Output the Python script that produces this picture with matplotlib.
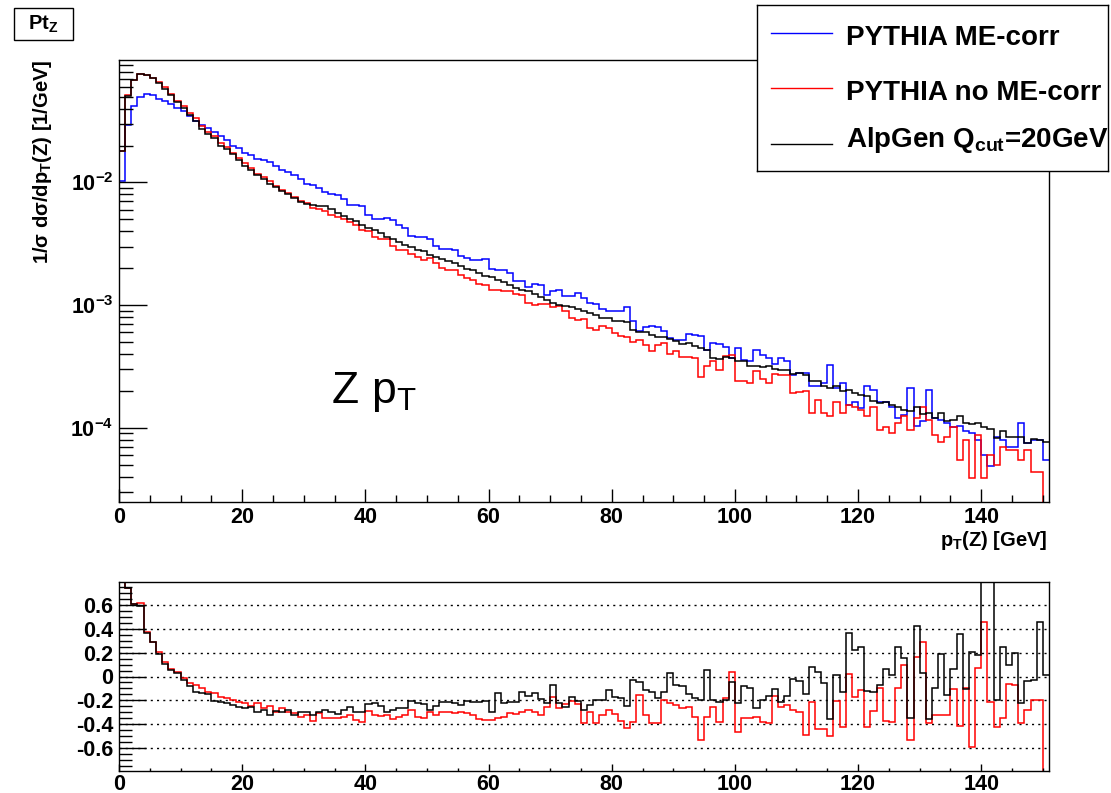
import numpy as np
import matplotlib
matplotlib.use('Agg')
import matplotlib.pyplot as plt
from matplotlib.patches import Rectangle
from matplotlib.ticker import FixedLocator, MultipleLocator, LogLocator, NullFormatter, FuncFormatter

plt.rcParams['font.family'] = ['Liberation Sans', 'DejaVu Sans']
plt.rcParams['font.weight'] = 'bold'
plt.rcParams['mathtext.fontset'] = 'custom'
plt.rcParams['mathtext.rm'] = 'Liberation Sans:weight=normal'
plt.rcParams['mathtext.it'] = 'Liberation Sans:italic'
plt.rcParams['mathtext.bf'] = 'Liberation Sans:bold'
plt.rcParams['axes.unicode_minus'] = False

# 1 GeV bins from 0 to 151
PT_EDGES = np.arange(0, 152)

# 1/sigma dsigma/dpT(Z) per bin [1/GeV]
PYTHIA_ME = [
    0.0103, 0.0292, 0.0420, 0.0501, 0.0530, 0.0513, 0.0482, 0.0461, 0.0433, 0.0407,
    0.0382, 0.0348, 0.0316, 0.0292, 0.0279, 0.0257, 0.0239, 0.0220, 0.0200, 0.0192,
    0.0175, 0.0166, 0.0156, 0.0151, 0.0147, 0.0136, 0.0126, 0.0121, 0.0114, 0.0106,
    0.0098, 0.00945, 0.00905, 0.00839, 0.00808, 0.00783, 0.00727, 0.00661, 0.00661, 0.00641,
    0.00548, 0.00508, 0.00508, 0.00515, 0.00493, 0.00446, 0.00426, 0.00369, 0.00360, 0.00360,
    0.00343, 0.00306, 0.00287, 0.00287, 0.00284, 0.00251, 0.00241, 0.00232, 0.00232, 0.00238,
    0.00197, 0.00195, 0.00192, 0.00183, 0.00157, 0.00157, 0.00141, 0.00150, 0.00147, 0.00120,
    0.00131, 0.00134, 0.00118, 0.00118, 0.00126, 0.00114, 0.00105, 0.00103, 0.00093, 0.00089,
    0.00089, 0.00089, 0.00097, 0.00074, 0.00062, 0.00066, 0.00068, 0.00067, 0.00062, 0.00054,
    0.00052, 0.00052, 0.00058, 0.00057, 0.00056, 0.00043, 0.00049, 0.00048, 0.00046, 0.00037,
    0.00045, 0.00036, 0.00035, 0.00043, 0.00039, 0.00037, 0.00033, 0.00037, 0.00035, 0.00027,
    0.00028, 0.000279, 0.000220, 0.000218, 0.000232, 0.000327, 0.000211, 0.000232, 0.000154, 0.000164,
    0.000145, 0.000218, 0.000202, 0.000164, 0.000161, 0.000149, 0.000120, 0.000128, 0.000211, 0.000103,
    0.000113, 0.000204, 0.000120, 0.000116, 0.000109, 0.000101, 0.000104, 0.0000951, 0.0000904, 0.0000798,
    0.0000602, 0.0000490, 0.0000850, 0.0000798, 0.0000695, 0.0000695, 0.000109, 0.0000749, 0.0000798, 0.0000798,
    0.0000548,
]
PYTHIA_NOME = [
    0.0182, 0.0515, 0.069, 0.077, 0.075, 0.071, 0.066, 0.060, 0.053, 0.046,
    0.042, 0.037, 0.0335, 0.029, 0.026, 0.0240, 0.0210, 0.0193, 0.0173, 0.0158,
    0.0143, 0.0131, 0.0118, 0.0111, 0.0102, 0.0094, 0.0087, 0.0082, 0.0076, 0.0070,
    0.0068, 0.00621, 0.00602, 0.00583, 0.00548, 0.00525, 0.00499, 0.00477, 0.00446, 0.00408,
    0.00401, 0.00360, 0.00349, 0.00343, 0.00306, 0.00284, 0.00280, 0.00263, 0.00247, 0.00235,
    0.00243, 0.00221, 0.00201, 0.00195, 0.00192, 0.00177, 0.00167, 0.00160, 0.00150, 0.00147,
    0.00132, 0.00132, 0.00131, 0.00130, 0.00124, 0.00120, 0.00104, 0.00101, 0.00103, 0.00103,
    0.00096, 0.00098, 0.00089, 0.00079, 0.00076, 0.00077, 0.00065, 0.000623, 0.000671, 0.000651,
    0.000593, 0.000564, 0.000549, 0.000497, 0.000522, 0.000470, 0.000420, 0.000470, 0.000491, 0.000402,
    0.000420, 0.000377, 0.000381, 0.000368, 0.000259, 0.000318, 0.000348, 0.000294, 0.000385, 0.000394,
    0.000243, 0.000243, 0.000233, 0.000290, 0.000248, 0.000233, 0.000276, 0.000272, 0.000272, 0.000194,
    0.000196, 0.000198, 0.000132, 0.000169, 0.000132, 0.000125, 0.000164, 0.000132, 0.000154, 0.000149,
    0.000140, 0.000125, 0.000149, 0.0000963, 0.000101, 0.0000916, 0.000110, 0.000124, 0.0000963, 0.000120,
    0.000149, 0.000116, 0.0000877, 0.0000773, 0.0000850, 0.000101, 0.0000548, 0.0000798, 0.0000388, 0.0000877,
    0.0000388, 0.0000602, 0.0000499, 0.0000704, 0.0000661, 0.0000661, 0.0000548, 0.0000661, 0.0000440, 0.0000440,
    0.00001,
]
ALPGEN = [
    0.0182, 0.0507, 0.0684, 0.0771, 0.0752, 0.0707, 0.0652, 0.0582, 0.0513, 0.0453,
    0.0407, 0.0353, 0.0316, 0.0271, 0.0250, 0.0230, 0.0200, 0.0186, 0.0169, 0.0152,
    0.0136, 0.0126, 0.0114, 0.0107, 0.0098, 0.0091, 0.0085, 0.0080, 0.0074, 0.0069,
    0.0067, 0.00661, 0.00641, 0.00641, 0.00602, 0.00559, 0.00531, 0.00499, 0.00483, 0.00454,
    0.00424, 0.00408, 0.00388, 0.00360, 0.00343, 0.00326, 0.00312, 0.00298, 0.00284, 0.00275,
    0.00258, 0.00247, 0.00238, 0.00228, 0.00221, 0.00210, 0.00197, 0.00192, 0.00183, 0.00172,
    0.00170, 0.00160, 0.00154, 0.00146, 0.00138, 0.00134, 0.00130, 0.00123, 0.00117, 0.00110,
    0.00105, 0.00101, 0.00098, 0.00096, 0.00093, 0.00089, 0.00086, 0.000836, 0.000785, 0.000785,
    0.000738, 0.000738, 0.000724, 0.000631, 0.000600, 0.000600, 0.000574, 0.000549, 0.000549, 0.000530,
    0.000507, 0.000485, 0.000491, 0.000467, 0.000447, 0.000433, 0.000368, 0.000363, 0.000377, 0.000368,
    0.000354, 0.000348, 0.000322, 0.000318, 0.000313, 0.000318, 0.000303, 0.000299, 0.000298, 0.000276,
    0.000281, 0.000271, 0.000239, 0.000239, 0.000218, 0.000211, 0.000220, 0.000198, 0.000204, 0.000194,
    0.000186, 0.000183, 0.000166, 0.000159, 0.000164, 0.000154, 0.000149, 0.000140, 0.000138, 0.000147,
    0.000130, 0.000133, 0.000120, 0.000133, 0.000113, 0.000115, 0.000124, 0.000110, 0.000108, 0.000110,
    0.000101, 0.0000975, 0.0000824, 0.0000951, 0.0000839, 0.0000839, 0.0000850, 0.0000749, 0.0000808, 0.0000798,
    0.0000773,
]

# relative difference to PYTHIA ME-corr
RATIO_NOME = [
    0.85, 0.74, 0.606, 0.615, 0.371, 0.287, 0.209, 0.119, 0.060, 0.041,
    -0.010, -0.057, -0.071, -0.099, -0.133, -0.141, -0.175, -0.183, -0.197, -0.217,
    -0.225, -0.245, -0.225, -0.267, -0.245, -0.296, -0.267, -0.301, -0.310, -0.338,
    -0.324, -0.371, -0.310, -0.346, -0.352, -0.352, -0.338, -0.324, -0.366, -0.380,
    -0.290, -0.324, -0.329, -0.324, -0.360, -0.338, -0.324, -0.282, -0.338, -0.352,
    -0.296, -0.324, -0.301, -0.301, -0.310, -0.301, -0.310, -0.324, -0.357, -0.366,
    -0.366, -0.352, -0.338, -0.310, -0.318, -0.301, -0.282, -0.296, -0.324, -0.259,
    -0.175, -0.262, -0.234, -0.206, -0.234, -0.394, -0.296, -0.394, -0.324, -0.282,
    -0.318, -0.374, -0.430, -0.380, -0.155, -0.324, -0.394, -0.394, -0.197, -0.225,
    -0.239, -0.262, -0.254, -0.338, -0.534, -0.338, -0.254, -0.380, -0.183, 0.041,
    -0.464, -0.352, -0.346, -0.338, -0.380, -0.394, -0.161, -0.254, -0.239, -0.282,
    -0.296, -0.491, -0.217, -0.441, -0.441, -0.497, -0.206, -0.422, 0.018, -0.169,
    -0.113, -0.422, -0.290, -0.099, -0.374, -0.385, -0.094, 0.097, -0.534, 0.167,
    0.293, -0.394, -0.324, -0.324, -0.324, -0.105, -0.413, -0.099, -0.590, 0.069,
    0.455, -0.211, -0.422, -0.352, -0.066, -0.071, -0.394, -0.282, -0.197, -0.197,
    -1.0,
]
RATIO_ALPGEN = [
    0.85, 0.746, 0.606, 0.595, 0.363, 0.287, 0.189, 0.102, 0.055, 0.027,
    -0.029, -0.080, -0.127, -0.141, -0.150, -0.206, -0.211, -0.225, -0.239, -0.254,
    -0.262, -0.254, -0.301, -0.282, -0.324, -0.290, -0.296, -0.282, -0.324, -0.296,
    -0.296, -0.324, -0.301, -0.282, -0.296, -0.315, -0.282, -0.254, -0.296, -0.296,
    -0.234, -0.225, -0.245, -0.296, -0.280, -0.267, -0.267, -0.203, -0.225, -0.234,
    -0.282, -0.245, -0.211, -0.211, -0.225, -0.239, -0.206, -0.217, -0.211, -0.203,
    -0.296, -0.141, -0.220, -0.211, -0.211, -0.133, -0.161, -0.141, -0.189, -0.225,
    -0.071, -0.225, -0.254, -0.169, -0.206, -0.282, -0.239, -0.197, -0.197, -0.113,
    -0.169, -0.183, -0.245, -0.029, -0.043, -0.113, -0.133, -0.178, -0.127, 0.027,
    -0.071, -0.080, -0.150, -0.178, -0.197, 0.055, -0.197, -0.211, -0.197, -0.043,
    -0.225, -0.080, -0.094, -0.262, -0.197, -0.161, -0.105, -0.211, -0.161, -0.021,
    -0.038, -0.150, 0.083, 0.035, -0.057, -0.357, 0.013, -0.133, 0.363, 0.223,
    0.251, -0.122, -0.133, -0.071, 0.063, 0.013, 0.251, 0.158, -0.346, 0.427,
    0.027, -0.357, -0.094, 0.189, -0.155, 0.063, 0.355, -0.105, 0.203, 0.181,
    1.5, 1.5, -0.197, 0.251, 0.097, 0.195, -0.225, -0.038, -0.029, 0.455,
    0.013,
]

W, H = 1111, 793
fig = plt.figure(figsize=(W / 100, H / 100), dpi=100)
fig.patch.set_facecolor('white')


def px_box(x0, y0, x1, y1):
    # pixel box (top-left origin) -> figure fraction rect
    return [x0 / W, 1 - y1 / H, (x1 - x0) / W, (y1 - y0) / H]


ax = fig.add_axes(px_box(119, 60, 1049, 502))
rax = fig.add_axes(px_box(119, 582, 1049, 771))

# ── main panel ─────────────────────────────────────────────────────────────
LW = 1.1
ax.stairs(PYTHIA_ME, PT_EDGES, baseline=None, color='#0000ff', lw=LW)
ax.stairs(PYTHIA_NOME, PT_EDGES, baseline=None, color='#ff0000', lw=LW)
ax.stairs(ALPGEN, PT_EDGES, baseline=None, color='black', lw=LW)

ax.set_yscale('log')
ax.set_xlim(0, 151)
ax.set_ylim(10 ** -4.604, 0.0995)
ax.yaxis.set_major_locator(FixedLocator([1e-4, 1e-3, 1e-2]))
ax.yaxis.set_major_formatter(FuncFormatter(
    lambda v, p: r'$\mathbf{10^{%d}}$' % round(np.log10(v))))
ax.yaxis.set_minor_locator(LogLocator(base=10, subs=np.arange(2, 10)))
ax.yaxis.set_minor_formatter(NullFormatter())
ax.xaxis.set_major_locator(MultipleLocator(20))
ax.xaxis.set_minor_locator(MultipleLocator(5))
ax.tick_params(axis='y', which='major', length=20, pad=4)
ax.tick_params(axis='y', which='minor', length=10)
ax.tick_params(axis='x', which='major', length=9.5, pad=3.5)
ax.tick_params(axis='x', which='minor', length=5)

# ── ratio panel ────────────────────────────────────────────────────────────
for yg in [-0.6, -0.4, -0.2, 0.0, 0.2, 0.4, 0.6]:
    rax.axhline(yg, color='black', lw=1.0, ls=(0, (1.5, 3)), zorder=0)
rax.stairs(RATIO_NOME, PT_EDGES, baseline=None, color='#ff0000', lw=LW)
rax.stairs(RATIO_ALPGEN, PT_EDGES, baseline=None, color='black', lw=LW)

rax.set_xlim(0, 151)
rax.set_ylim(-0.794, 0.794)
rax.yaxis.set_major_locator(FixedLocator([-0.6, -0.4, -0.2, 0.0, 0.2, 0.4, 0.6]))
rax.yaxis.set_major_formatter(FuncFormatter(lambda v, p: f'{v:g}'))
rax.yaxis.set_minor_locator(MultipleLocator(0.05))
rax.xaxis.set_major_locator(MultipleLocator(20))
rax.xaxis.set_minor_locator(MultipleLocator(5))
rax.tick_params(axis='y', which='major', length=19.5, pad=4)
rax.tick_params(axis='y', which='minor', length=9.5)
rax.tick_params(axis='x', which='major', length=5, pad=2)
rax.tick_params(axis='x', which='minor', length=2.5)

for a in (ax, rax):
    a.tick_params(which='both', direction='in', top=False, right=False,
                  width=1.0, labelsize=15.5)
    for sp in a.spines.values():
        sp.set_linewidth(1.0)

# ── texts ──────────────────────────────────────────────────────────────────
fig.text(1048 / W, 1 - 546 / H, r'p$_{\mathbf{T}}$(Z) [GeV]',
         ha='right', va='baseline', fontsize=14.5)
fig.text(43 / W, 1 - 60 / H, r'1/σ dσ/dp$_{\mathbf{T}}$(Z) [1/GeV]',
         rotation=90, ha='center', va='top', fontsize=14.5)
fig.text(331 / W, 1 - 403 / H, r'$\mathrm{Z\ p_{T}}$', fontsize=32,
         fontweight='normal', ha='left', va='baseline')

# histogram title box
fig.add_artist(Rectangle((14 / W, 1 - 40 / H), 59 / W, 32 / H,
                         transform=fig.transFigure, fill=True, fc='white',
                         ec='black', lw=1.0))
fig.text(43.5 / W, 1 - 30 / H, r'Pt$_{\mathbf{Z}}$', ha='center',
         va='baseline', fontsize=14.5)

# ── legend box (pixel coordinates) ─────────────────────────────────────────
lax = fig.add_axes(px_box(757, 5, 1108, 171))
lax.set_xlim(757, 1108)
lax.set_ylim(171, 5)
lax.set_xticks([])
lax.set_yticks([])
lax.set_facecolor('white')
for sp in lax.spines.values():
    sp.set_linewidth(1.0)
legend_entries = [
    ('PYTHIA ME-corr', '#0000ff', 33, 45),
    ('PYTHIA no ME-corr', '#ff0000', 88, 100),
    (r'AlpGen Q$_{\mathbf{cut}}$=20GeV', 'black', 144, 147),
]
for label, col, ly, ty in legend_entries:
    lax.plot([771, 832], [ly, ly], color=col, lw=1.0)
    lax.text(846, ty, label, ha='left', va='baseline', fontsize=20)

fig.savefig('out.png', dpi=100, facecolor='white')
